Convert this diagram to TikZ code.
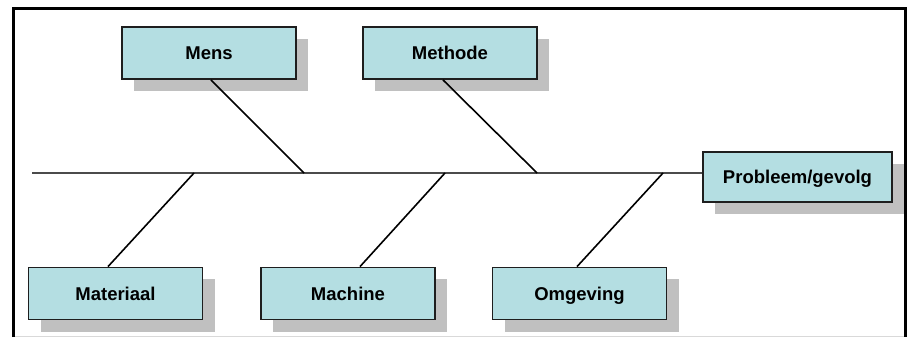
\documentclass[tikz,border=0pt]{standalone}
\usepackage{fontspec}
\setmainfont{Liberation Sans}
\usetikzlibrary{shadows}
\definecolor{boxfill}{RGB}{180,222,226}
\definecolor{shadowgray}{RGB}{192,192,192}
\definecolor{edge}{RGB}{30,30,30}
\begin{document}
\begin{tikzpicture}[x=1pt,y=1pt,
  catbox/.style={draw=edge, line width=1.8pt, fill=boxfill, minimum width=174pt, minimum height=52pt, inner sep=0pt,
    text height=13.5pt, text depth=0.3pt,
    font=\fontsize{18.5}{20}\selectfont\bfseries,
    drop shadow={shadow xshift=12pt, shadow yshift=-12pt, fill=shadowgray, opacity=1}},
  bone/.style={draw=black, line width=1.6pt}]
\useasboundingbox (0,0) rectangle (909,337);
\fill[white] (0,0) rectangle (909,337);
% frame
\draw[black!15, line width=1pt] (13,1) -- (905,1);
\draw[black, line width=3pt] (13,0) -- (13,328) -- (905,328) -- (905,0);
% nodes
\node[catbox] (mens) at (209,284) {Mens};
\node[catbox] (methode) at (450,284) {Methode};
\node[catbox, minimum width=189pt, minimum height=50pt] (probleem) at (797.5,160) {Probleem/gevolg};
\node[catbox] (materiaal) at (115.5,43.5) {Materiaal};
\node[catbox] (machine) at (348,43.5) {Machine};
\node[catbox] (omgeving) at (579.5,43.5) {Omgeving};
% spine
\coordinate (tail) at (32,164);
\coordinate (s1) at (194,164);
\coordinate (s2) at (304,164);
\coordinate (s3) at (445,164);
\coordinate (s4) at (537,164);
\coordinate (s5) at (663,164);
\draw[draw=edge!80, line width=1.8pt] (tail) -- (tail -| probleem.west);
% bones
\draw[bone] ([xshift=2pt]mens.south) -- (s2);
\draw[bone] ([xshift=-7pt]methode.south) -- (s4);
\draw[bone] ([xshift=-7.5pt]materiaal.north) -- (s1);
\draw[bone] ([xshift=12pt]machine.north) -- (s3);
\draw[bone] ([xshift=-2.5pt]omgeving.north) -- (s5);
\end{tikzpicture}
\end{document}
